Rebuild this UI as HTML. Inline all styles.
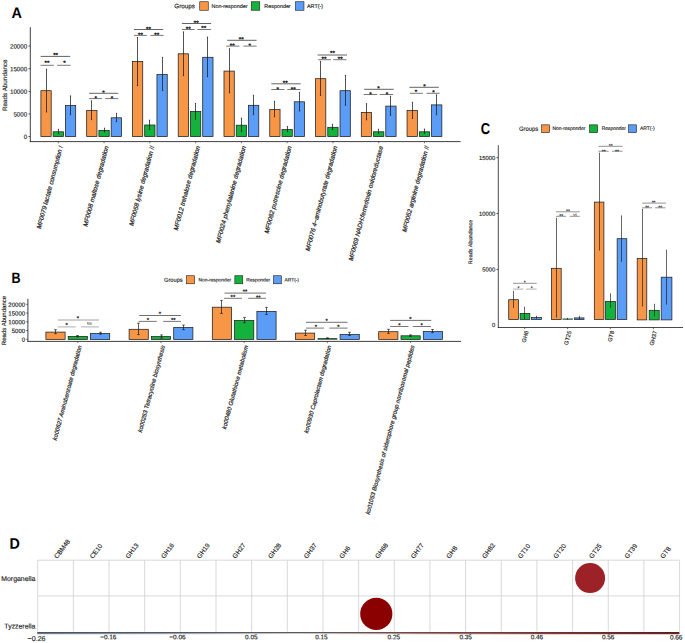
<!DOCTYPE html>
<html lang="en">
<head>
<meta charset="utf-8">
<title>Figure</title>
<style>
html,body{margin:0;padding:0;background:#fff;}
body{width:685px;height:643px;overflow:hidden;}
svg{display:block;}
text{font-family:"Liberation Sans",sans-serif;}
</style>
</head>
<body>
<svg width="685" height="643" viewBox="0 0 685 643" font-family="'Liberation Sans', sans-serif">
<rect x="0" y="0" width="685" height="643" fill="#ffffff"/>
<g id="panelA">
<text x="11.4" y="18" font-size="15.2" text-anchor="start" fill="#000" font-weight="bold" transform="translate(11.4 18) rotate(-0.05) scale(0.95 1) translate(-11.4 -18)">A</text>
<text x="174.3" y="8.27" font-size="6.3" text-anchor="start" fill="#1a1a1a" stroke="#1a1a1a" stroke-width="0.14" transform="rotate(-0.05 174.3 8.27)">Groups</text>
<rect x="199.74" y="1.74" width="8.52" height="8.52" fill="#F79646" stroke="#1e1e1e" stroke-width="0.6"/>
<text x="211.5" y="7.94" font-size="5.4" text-anchor="start" fill="#1a1a1a" stroke="#1a1a1a" stroke-width="0.14" transform="rotate(-0.05 211.5 7.94)">Non-responder</text>
<rect x="251.24" y="1.74" width="8.52" height="8.52" fill="#13B23C" stroke="#1e1e1e" stroke-width="0.6"/>
<text x="264.3" y="7.94" font-size="5.4" text-anchor="start" fill="#1a1a1a" stroke="#1a1a1a" stroke-width="0.14" transform="rotate(-0.05 264.3 7.94)">Responder</text>
<rect x="295.44" y="1.74" width="8.52" height="8.52" fill="#5B9CF6" stroke="#1e1e1e" stroke-width="0.6"/>
<text x="307" y="7.94" font-size="5.4" text-anchor="start" fill="#1a1a1a" stroke="#1a1a1a" stroke-width="0.14" transform="rotate(-0.05 307 7.94)">ART(-)</text>
<rect x="40.9" y="90.7" width="10.3" height="45.9" fill="#F79646" stroke="#1e1e1e" stroke-width="0.75"/>
<rect x="53.15" y="131.8" width="10.3" height="4.8" fill="#13B23C" stroke="#1e1e1e" stroke-width="0.75"/>
<rect x="65.4" y="105.5" width="10.3" height="31.1" fill="#5B9CF6" stroke="#1e1e1e" stroke-width="0.75"/>
<line x1="46.5" y1="69.2" x2="46.5" y2="112" stroke="#1a1a1a" stroke-width="0.75"/>
<line x1="45.9" y1="69.2" x2="47.1" y2="69.2" stroke="#1a1a1a" stroke-width="0.75"/>
<line x1="45.9" y1="112" x2="47.1" y2="112" stroke="#1a1a1a" stroke-width="0.75"/>
<line x1="58.5" y1="129.3" x2="58.5" y2="133.6" stroke="#1a1a1a" stroke-width="0.75"/>
<line x1="57.9" y1="129.3" x2="59.1" y2="129.3" stroke="#1a1a1a" stroke-width="0.75"/>
<line x1="57.9" y1="133.6" x2="59.1" y2="133.6" stroke="#1a1a1a" stroke-width="0.75"/>
<line x1="70.5" y1="95.9" x2="70.5" y2="114.7" stroke="#1a1a1a" stroke-width="0.75"/>
<line x1="69.9" y1="95.9" x2="71.1" y2="95.9" stroke="#1a1a1a" stroke-width="0.75"/>
<line x1="69.9" y1="114.7" x2="71.1" y2="114.7" stroke="#1a1a1a" stroke-width="0.75"/>
<rect x="86.67" y="110.6" width="10.3" height="26" fill="#F79646" stroke="#1e1e1e" stroke-width="0.75"/>
<rect x="98.92" y="130.4" width="10.3" height="6.2" fill="#13B23C" stroke="#1e1e1e" stroke-width="0.75"/>
<rect x="111.17" y="117.8" width="10.3" height="18.8" fill="#5B9CF6" stroke="#1e1e1e" stroke-width="0.75"/>
<line x1="91.5" y1="100.9" x2="91.5" y2="119.6" stroke="#1a1a1a" stroke-width="0.75"/>
<line x1="90.9" y1="100.9" x2="92.1" y2="100.9" stroke="#1a1a1a" stroke-width="0.75"/>
<line x1="90.9" y1="119.6" x2="92.1" y2="119.6" stroke="#1a1a1a" stroke-width="0.75"/>
<line x1="104.5" y1="128.2" x2="104.5" y2="131.9" stroke="#1a1a1a" stroke-width="0.75"/>
<line x1="103.9" y1="128.2" x2="105.1" y2="128.2" stroke="#1a1a1a" stroke-width="0.75"/>
<line x1="103.9" y1="131.9" x2="105.1" y2="131.9" stroke="#1a1a1a" stroke-width="0.75"/>
<line x1="116.5" y1="113.4" x2="116.5" y2="121.6" stroke="#1a1a1a" stroke-width="0.75"/>
<line x1="115.9" y1="113.4" x2="117.1" y2="113.4" stroke="#1a1a1a" stroke-width="0.75"/>
<line x1="115.9" y1="121.6" x2="117.1" y2="121.6" stroke="#1a1a1a" stroke-width="0.75"/>
<rect x="132.44" y="61.5" width="10.3" height="75.1" fill="#F79646" stroke="#1e1e1e" stroke-width="0.75"/>
<rect x="144.69" y="125" width="10.3" height="11.6" fill="#13B23C" stroke="#1e1e1e" stroke-width="0.75"/>
<rect x="156.94" y="74.6" width="10.3" height="62" fill="#5B9CF6" stroke="#1e1e1e" stroke-width="0.75"/>
<line x1="137.5" y1="37.5" x2="137.5" y2="85.6" stroke="#1a1a1a" stroke-width="0.75"/>
<line x1="136.9" y1="37.5" x2="138.1" y2="37.5" stroke="#1a1a1a" stroke-width="0.75"/>
<line x1="136.9" y1="85.6" x2="138.1" y2="85.6" stroke="#1a1a1a" stroke-width="0.75"/>
<line x1="149.5" y1="120.2" x2="149.5" y2="129.5" stroke="#1a1a1a" stroke-width="0.75"/>
<line x1="148.9" y1="120.2" x2="150.1" y2="120.2" stroke="#1a1a1a" stroke-width="0.75"/>
<line x1="148.9" y1="129.5" x2="150.1" y2="129.5" stroke="#1a1a1a" stroke-width="0.75"/>
<line x1="162.5" y1="57.4" x2="162.5" y2="90.6" stroke="#1a1a1a" stroke-width="0.75"/>
<line x1="161.9" y1="57.4" x2="163.1" y2="57.4" stroke="#1a1a1a" stroke-width="0.75"/>
<line x1="161.9" y1="90.6" x2="163.1" y2="90.6" stroke="#1a1a1a" stroke-width="0.75"/>
<rect x="178.21" y="53.8" width="10.3" height="82.8" fill="#F79646" stroke="#1e1e1e" stroke-width="0.75"/>
<rect x="190.46" y="111.5" width="10.3" height="25.1" fill="#13B23C" stroke="#1e1e1e" stroke-width="0.75"/>
<rect x="202.71" y="57.3" width="10.3" height="79.3" fill="#5B9CF6" stroke="#1e1e1e" stroke-width="0.75"/>
<line x1="183.5" y1="31.9" x2="183.5" y2="75.6" stroke="#1a1a1a" stroke-width="0.75"/>
<line x1="182.9" y1="31.9" x2="184.1" y2="31.9" stroke="#1a1a1a" stroke-width="0.75"/>
<line x1="182.9" y1="75.6" x2="184.1" y2="75.6" stroke="#1a1a1a" stroke-width="0.75"/>
<line x1="195.5" y1="103.5" x2="195.5" y2="119.2" stroke="#1a1a1a" stroke-width="0.75"/>
<line x1="194.9" y1="103.5" x2="196.1" y2="103.5" stroke="#1a1a1a" stroke-width="0.75"/>
<line x1="194.9" y1="119.2" x2="196.1" y2="119.2" stroke="#1a1a1a" stroke-width="0.75"/>
<line x1="207.5" y1="37.1" x2="207.5" y2="76.6" stroke="#1a1a1a" stroke-width="0.75"/>
<line x1="206.9" y1="37.1" x2="208.1" y2="37.1" stroke="#1a1a1a" stroke-width="0.75"/>
<line x1="206.9" y1="76.6" x2="208.1" y2="76.6" stroke="#1a1a1a" stroke-width="0.75"/>
<rect x="223.98" y="71.1" width="10.3" height="65.5" fill="#F79646" stroke="#1e1e1e" stroke-width="0.75"/>
<rect x="236.23" y="125.2" width="10.3" height="11.4" fill="#13B23C" stroke="#1e1e1e" stroke-width="0.75"/>
<rect x="248.48" y="105.3" width="10.3" height="31.3" fill="#5B9CF6" stroke="#1e1e1e" stroke-width="0.75"/>
<line x1="229.5" y1="48.8" x2="229.5" y2="92.8" stroke="#1a1a1a" stroke-width="0.75"/>
<line x1="228.9" y1="48.8" x2="230.1" y2="48.8" stroke="#1a1a1a" stroke-width="0.75"/>
<line x1="228.9" y1="92.8" x2="230.1" y2="92.8" stroke="#1a1a1a" stroke-width="0.75"/>
<line x1="241.5" y1="118.2" x2="241.5" y2="131.5" stroke="#1a1a1a" stroke-width="0.75"/>
<line x1="240.9" y1="118.2" x2="242.1" y2="118.2" stroke="#1a1a1a" stroke-width="0.75"/>
<line x1="240.9" y1="131.5" x2="242.1" y2="131.5" stroke="#1a1a1a" stroke-width="0.75"/>
<line x1="253.5" y1="95.3" x2="253.5" y2="114.7" stroke="#1a1a1a" stroke-width="0.75"/>
<line x1="252.9" y1="95.3" x2="254.1" y2="95.3" stroke="#1a1a1a" stroke-width="0.75"/>
<line x1="252.9" y1="114.7" x2="254.1" y2="114.7" stroke="#1a1a1a" stroke-width="0.75"/>
<rect x="269.75" y="109.6" width="10.3" height="27" fill="#F79646" stroke="#1e1e1e" stroke-width="0.75"/>
<rect x="282" y="129.6" width="10.3" height="7" fill="#13B23C" stroke="#1e1e1e" stroke-width="0.75"/>
<rect x="294.25" y="101.8" width="10.3" height="34.8" fill="#5B9CF6" stroke="#1e1e1e" stroke-width="0.75"/>
<line x1="274.5" y1="101.3" x2="274.5" y2="116.7" stroke="#1a1a1a" stroke-width="0.75"/>
<line x1="273.9" y1="101.3" x2="275.1" y2="101.3" stroke="#1a1a1a" stroke-width="0.75"/>
<line x1="273.9" y1="116.7" x2="275.1" y2="116.7" stroke="#1a1a1a" stroke-width="0.75"/>
<line x1="287.5" y1="126.6" x2="287.5" y2="131.5" stroke="#1a1a1a" stroke-width="0.75"/>
<line x1="286.9" y1="126.6" x2="288.1" y2="126.6" stroke="#1a1a1a" stroke-width="0.75"/>
<line x1="286.9" y1="131.5" x2="288.1" y2="131.5" stroke="#1a1a1a" stroke-width="0.75"/>
<line x1="299.5" y1="92.4" x2="299.5" y2="110.9" stroke="#1a1a1a" stroke-width="0.75"/>
<line x1="298.9" y1="92.4" x2="300.1" y2="92.4" stroke="#1a1a1a" stroke-width="0.75"/>
<line x1="298.9" y1="110.9" x2="300.1" y2="110.9" stroke="#1a1a1a" stroke-width="0.75"/>
<rect x="315.52" y="78.7" width="10.3" height="57.9" fill="#F79646" stroke="#1e1e1e" stroke-width="0.75"/>
<rect x="327.77" y="127.3" width="10.3" height="9.3" fill="#13B23C" stroke="#1e1e1e" stroke-width="0.75"/>
<rect x="340.02" y="90.7" width="10.3" height="45.9" fill="#5B9CF6" stroke="#1e1e1e" stroke-width="0.75"/>
<line x1="320.5" y1="61.4" x2="320.5" y2="95.5" stroke="#1a1a1a" stroke-width="0.75"/>
<line x1="319.9" y1="61.4" x2="321.1" y2="61.4" stroke="#1a1a1a" stroke-width="0.75"/>
<line x1="319.9" y1="95.5" x2="321.1" y2="95.5" stroke="#1a1a1a" stroke-width="0.75"/>
<line x1="332.5" y1="124.3" x2="332.5" y2="129.5" stroke="#1a1a1a" stroke-width="0.75"/>
<line x1="331.9" y1="124.3" x2="333.1" y2="124.3" stroke="#1a1a1a" stroke-width="0.75"/>
<line x1="331.9" y1="129.5" x2="333.1" y2="129.5" stroke="#1a1a1a" stroke-width="0.75"/>
<line x1="345.5" y1="75.4" x2="345.5" y2="105.2" stroke="#1a1a1a" stroke-width="0.75"/>
<line x1="344.9" y1="75.4" x2="346.1" y2="75.4" stroke="#1a1a1a" stroke-width="0.75"/>
<line x1="344.9" y1="105.2" x2="346.1" y2="105.2" stroke="#1a1a1a" stroke-width="0.75"/>
<rect x="361.29" y="112.5" width="10.3" height="24.1" fill="#F79646" stroke="#1e1e1e" stroke-width="0.75"/>
<rect x="373.54" y="131.8" width="10.3" height="4.8" fill="#13B23C" stroke="#1e1e1e" stroke-width="0.75"/>
<rect x="385.79" y="106.1" width="10.3" height="30.5" fill="#5B9CF6" stroke="#1e1e1e" stroke-width="0.75"/>
<line x1="366.5" y1="103.7" x2="366.5" y2="119.8" stroke="#1a1a1a" stroke-width="0.75"/>
<line x1="365.9" y1="103.7" x2="367.1" y2="103.7" stroke="#1a1a1a" stroke-width="0.75"/>
<line x1="365.9" y1="119.8" x2="367.1" y2="119.8" stroke="#1a1a1a" stroke-width="0.75"/>
<line x1="378.5" y1="129.3" x2="378.5" y2="133.4" stroke="#1a1a1a" stroke-width="0.75"/>
<line x1="377.9" y1="129.3" x2="379.1" y2="129.3" stroke="#1a1a1a" stroke-width="0.75"/>
<line x1="377.9" y1="133.4" x2="379.1" y2="133.4" stroke="#1a1a1a" stroke-width="0.75"/>
<line x1="390.5" y1="96.3" x2="390.5" y2="115.3" stroke="#1a1a1a" stroke-width="0.75"/>
<line x1="389.9" y1="96.3" x2="391.1" y2="96.3" stroke="#1a1a1a" stroke-width="0.75"/>
<line x1="389.9" y1="115.3" x2="391.1" y2="115.3" stroke="#1a1a1a" stroke-width="0.75"/>
<rect x="407.06" y="110.6" width="10.3" height="26" fill="#F79646" stroke="#1e1e1e" stroke-width="0.75"/>
<rect x="419.31" y="131.8" width="10.3" height="4.8" fill="#13B23C" stroke="#1e1e1e" stroke-width="0.75"/>
<rect x="431.56" y="104.9" width="10.3" height="31.7" fill="#5B9CF6" stroke="#1e1e1e" stroke-width="0.75"/>
<line x1="412.5" y1="102.3" x2="412.5" y2="118.4" stroke="#1a1a1a" stroke-width="0.75"/>
<line x1="411.9" y1="102.3" x2="413.1" y2="102.3" stroke="#1a1a1a" stroke-width="0.75"/>
<line x1="411.9" y1="118.4" x2="413.1" y2="118.4" stroke="#1a1a1a" stroke-width="0.75"/>
<line x1="424.5" y1="129.1" x2="424.5" y2="133.4" stroke="#1a1a1a" stroke-width="0.75"/>
<line x1="423.9" y1="129.1" x2="425.1" y2="129.1" stroke="#1a1a1a" stroke-width="0.75"/>
<line x1="423.9" y1="133.4" x2="425.1" y2="133.4" stroke="#1a1a1a" stroke-width="0.75"/>
<line x1="436.5" y1="94.9" x2="436.5" y2="114.7" stroke="#1a1a1a" stroke-width="0.75"/>
<line x1="435.9" y1="94.9" x2="437.1" y2="94.9" stroke="#1a1a1a" stroke-width="0.75"/>
<line x1="435.9" y1="114.7" x2="437.1" y2="114.7" stroke="#1a1a1a" stroke-width="0.75"/>
<line x1="40.6" y1="56.4" x2="70.2" y2="56.4" stroke="#3c3c3c" stroke-width="0.8"/>
<line x1="40.6" y1="65.3" x2="53.9" y2="65.3" stroke="#555555" stroke-width="0.8"/>
<line x1="57.2" y1="65.3" x2="70.6" y2="65.3" stroke="#555555" stroke-width="0.8"/>
<text x="55.6" y="57.21" font-size="6.3" text-anchor="middle" fill="#222" stroke="#222" stroke-width="0.3" transform="rotate(-0.05 55.6 57.21)">**</text>
<text x="46.9" y="65.01" font-size="6.3" text-anchor="middle" fill="#222" stroke="#222" stroke-width="0.3" transform="rotate(-0.05 46.9 65.01)">**</text>
<text x="64.6" y="65.01" font-size="6.3" text-anchor="middle" fill="#222" stroke="#222" stroke-width="0.3" transform="rotate(-0.05 64.6 65.01)">*</text>
<line x1="89.1" y1="93.3" x2="118.3" y2="93.3" stroke="#3c3c3c" stroke-width="0.8"/>
<line x1="89.1" y1="98.6" x2="101.9" y2="98.6" stroke="#555555" stroke-width="0.8"/>
<line x1="105.2" y1="98.6" x2="118.3" y2="98.6" stroke="#555555" stroke-width="0.8"/>
<text x="103.5" y="94.81" font-size="6.3" text-anchor="middle" fill="#222" stroke="#222" stroke-width="0.3" transform="rotate(-0.05 103.5 94.81)">*</text>
<text x="95.7" y="100.61" font-size="6.3" text-anchor="middle" fill="#222" stroke="#222" stroke-width="0.3" transform="rotate(-0.05 95.7 100.61)">*</text>
<text x="111.9" y="100.61" font-size="6.3" text-anchor="middle" fill="#222" stroke="#222" stroke-width="0.3" transform="rotate(-0.05 111.9 100.61)">*</text>
<line x1="134" y1="29.5" x2="163.2" y2="29.5" stroke="#3c3c3c" stroke-width="0.8"/>
<line x1="134" y1="35.4" x2="146.8" y2="35.4" stroke="#555555" stroke-width="0.8"/>
<line x1="150.4" y1="35.4" x2="163.6" y2="35.4" stroke="#555555" stroke-width="0.8"/>
<text x="148.4" y="31.21" font-size="6.3" text-anchor="middle" fill="#222" stroke="#222" stroke-width="0.3" transform="rotate(-0.05 148.4 31.21)">**</text>
<text x="140.4" y="37.01" font-size="6.3" text-anchor="middle" fill="#222" stroke="#222" stroke-width="0.3" transform="rotate(-0.05 140.4 37.01)">**</text>
<text x="156.8" y="37.01" font-size="6.3" text-anchor="middle" fill="#222" stroke="#222" stroke-width="0.3" transform="rotate(-0.05 156.8 37.01)">**</text>
<line x1="181.9" y1="23.5" x2="211.1" y2="23.5" stroke="#3c3c3c" stroke-width="0.8"/>
<line x1="181.9" y1="29.5" x2="194.7" y2="29.5" stroke="#555555" stroke-width="0.8"/>
<line x1="197.4" y1="29.5" x2="211.1" y2="29.5" stroke="#555555" stroke-width="0.8"/>
<text x="196.3" y="25.01" font-size="6.3" text-anchor="middle" fill="#222" stroke="#222" stroke-width="0.3" transform="rotate(-0.05 196.3 25.01)">**</text>
<text x="188.3" y="31.01" font-size="6.3" text-anchor="middle" fill="#222" stroke="#222" stroke-width="0.3" transform="rotate(-0.05 188.3 31.01)">**</text>
<text x="203.7" y="30.31" font-size="6.3" text-anchor="middle" fill="#222" stroke="#222" stroke-width="0.3" transform="rotate(-0.05 203.7 30.31)">**</text>
<line x1="227.2" y1="40.3" x2="256.6" y2="40.3" stroke="#3c3c3c" stroke-width="0.8"/>
<line x1="226.2" y1="46.1" x2="239.4" y2="46.1" stroke="#555555" stroke-width="0.8"/>
<line x1="243.3" y1="46.1" x2="256.6" y2="46.1" stroke="#555555" stroke-width="0.8"/>
<text x="241.2" y="41.41" font-size="6.3" text-anchor="middle" fill="#222" stroke="#222" stroke-width="0.3" transform="rotate(-0.05 241.2 41.41)">**</text>
<text x="232.2" y="47.81" font-size="6.3" text-anchor="middle" fill="#222" stroke="#222" stroke-width="0.3" transform="rotate(-0.05 232.2 47.81)">**</text>
<text x="249.7" y="47.81" font-size="6.3" text-anchor="middle" fill="#222" stroke="#222" stroke-width="0.3" transform="rotate(-0.05 249.7 47.81)">*</text>
<line x1="271.3" y1="83.8" x2="300.7" y2="83.8" stroke="#3c3c3c" stroke-width="0.8"/>
<line x1="271.3" y1="89.5" x2="284.4" y2="89.5" stroke="#555555" stroke-width="0.8"/>
<line x1="287.3" y1="89.5" x2="300.5" y2="89.5" stroke="#555555" stroke-width="0.8"/>
<text x="285.2" y="85.11" font-size="6.3" text-anchor="middle" fill="#222" stroke="#222" stroke-width="0.3" transform="rotate(-0.05 285.2 85.11)">**</text>
<text x="277.8" y="91.51" font-size="6.3" text-anchor="middle" fill="#222" stroke="#222" stroke-width="0.3" transform="rotate(-0.05 277.8 91.51)">*</text>
<text x="293.3" y="91.51" font-size="6.3" text-anchor="middle" fill="#222" stroke="#222" stroke-width="0.3" transform="rotate(-0.05 293.3 91.51)">**</text>
<line x1="317.6" y1="55" x2="347" y2="55" stroke="#3c3c3c" stroke-width="0.8"/>
<line x1="318.2" y1="59.7" x2="331" y2="59.7" stroke="#555555" stroke-width="0.8"/>
<line x1="333.4" y1="59.7" x2="346.4" y2="59.7" stroke="#555555" stroke-width="0.8"/>
<text x="332.4" y="55.31" font-size="6.3" text-anchor="middle" fill="#222" stroke="#222" stroke-width="0.3" transform="rotate(-0.05 332.4 55.31)">**</text>
<text x="324" y="61.11" font-size="6.3" text-anchor="middle" fill="#222" stroke="#222" stroke-width="0.3" transform="rotate(-0.05 324 61.11)">**</text>
<text x="340.2" y="61.11" font-size="6.3" text-anchor="middle" fill="#222" stroke="#222" stroke-width="0.3" transform="rotate(-0.05 340.2 61.11)">**</text>
<line x1="364.1" y1="89.3" x2="393.7" y2="89.3" stroke="#3c3c3c" stroke-width="0.8"/>
<line x1="363.7" y1="94.5" x2="377.2" y2="94.5" stroke="#555555" stroke-width="0.8"/>
<line x1="379.9" y1="94.5" x2="393.1" y2="94.5" stroke="#555555" stroke-width="0.8"/>
<text x="378.5" y="90.51" font-size="6.3" text-anchor="middle" fill="#222" stroke="#222" stroke-width="0.3" transform="rotate(-0.05 378.5 90.51)">*</text>
<text x="370.5" y="96.61" font-size="6.3" text-anchor="middle" fill="#222" stroke="#222" stroke-width="0.3" transform="rotate(-0.05 370.5 96.61)">*</text>
<text x="386.9" y="96.61" font-size="6.3" text-anchor="middle" fill="#222" stroke="#222" stroke-width="0.3" transform="rotate(-0.05 386.9 96.61)">*</text>
<line x1="409.4" y1="87.3" x2="438.8" y2="87.3" stroke="#3c3c3c" stroke-width="0.8"/>
<line x1="409.8" y1="93.3" x2="422.8" y2="93.3" stroke="#555555" stroke-width="0.8"/>
<line x1="426.5" y1="93.3" x2="439.7" y2="93.3" stroke="#555555" stroke-width="0.8"/>
<text x="424.4" y="88.41" font-size="6.3" text-anchor="middle" fill="#222" stroke="#222" stroke-width="0.3" transform="rotate(-0.05 424.4 88.41)">*</text>
<text x="416" y="94.01" font-size="6.3" text-anchor="middle" fill="#222" stroke="#222" stroke-width="0.3" transform="rotate(-0.05 416 94.01)">*</text>
<text x="433.5" y="94.61" font-size="6.3" text-anchor="middle" fill="#222" stroke="#222" stroke-width="0.3" transform="rotate(-0.05 433.5 94.61)">*</text>
<line x1="30.3" y1="27.2" x2="30.3" y2="142.05" stroke="#2a2a2a" stroke-width="0.9"/>
<line x1="29.85" y1="141.6" x2="460.6" y2="141.6" stroke="#2a2a2a" stroke-width="0.9"/>
<line x1="28.5" y1="136.5" x2="30.3" y2="136.5" stroke="#2a2a2a" stroke-width="0.8"/>
<text x="27.2" y="138.95" font-size="6.2" text-anchor="end" fill="#1a1a1a" stroke="#1a1a1a" stroke-width="0.14" transform="rotate(-0.05 27.2 138.95)">0</text>
<line x1="28.5" y1="113.95" x2="30.3" y2="113.95" stroke="#2a2a2a" stroke-width="0.8"/>
<text x="27.2" y="116.4" font-size="6.2" text-anchor="end" fill="#1a1a1a" stroke="#1a1a1a" stroke-width="0.14" transform="rotate(-0.05 27.2 116.4)">5000</text>
<line x1="28.5" y1="91.4" x2="30.3" y2="91.4" stroke="#2a2a2a" stroke-width="0.8"/>
<text x="27.2" y="93.85" font-size="6.2" text-anchor="end" fill="#1a1a1a" stroke="#1a1a1a" stroke-width="0.14" transform="rotate(-0.05 27.2 93.85)">10000</text>
<line x1="28.5" y1="68.7" x2="30.3" y2="68.7" stroke="#2a2a2a" stroke-width="0.8"/>
<text x="27.2" y="71.15" font-size="6.2" text-anchor="end" fill="#1a1a1a" stroke="#1a1a1a" stroke-width="0.14" transform="rotate(-0.05 27.2 71.15)">15000</text>
<line x1="28.5" y1="46" x2="30.3" y2="46" stroke="#2a2a2a" stroke-width="0.8"/>
<text x="27.2" y="48.45" font-size="6.2" text-anchor="end" fill="#1a1a1a" stroke="#1a1a1a" stroke-width="0.14" transform="rotate(-0.05 27.2 48.45)">20000</text>
<text x="7" y="85.2" font-size="6.3" text-anchor="middle" fill="#1a1a1a" stroke="#1a1a1a" stroke-width="0.14" transform="rotate(-90.05 7 85.2)">Reads Abundance</text>
<line x1="58.3" y1="141.6" x2="58.3" y2="143.3" stroke="#2a2a2a" stroke-width="0.6"/>
<text x="62.9" y="146.6" font-size="6.4" text-anchor="end" fill="#1a1a1a" stroke="#1a1a1a" stroke-width="0.2" font-style="italic" transform="rotate(-75.05 62.9 146.6)">MF0079 lactate consumption I</text>
<line x1="104.07" y1="141.6" x2="104.07" y2="143.3" stroke="#2a2a2a" stroke-width="0.6"/>
<text x="108.67" y="146.6" font-size="6.4" text-anchor="end" fill="#1a1a1a" stroke="#1a1a1a" stroke-width="0.2" font-style="italic" transform="rotate(-75.05 108.67 146.6)">MF0008 maltose degradation</text>
<line x1="149.84" y1="141.6" x2="149.84" y2="143.3" stroke="#2a2a2a" stroke-width="0.6"/>
<text x="154.44" y="146.6" font-size="6.4" text-anchor="end" fill="#1a1a1a" stroke="#1a1a1a" stroke-width="0.2" font-style="italic" transform="rotate(-75.05 154.44 146.6)">MF0058 lysine degradation II</text>
<line x1="195.61" y1="141.6" x2="195.61" y2="143.3" stroke="#2a2a2a" stroke-width="0.6"/>
<text x="200.21" y="146.6" font-size="6.4" text-anchor="end" fill="#1a1a1a" stroke="#1a1a1a" stroke-width="0.2" font-style="italic" transform="rotate(-75.05 200.21 146.6)">MF0012 trehalose degradation</text>
<line x1="241.38" y1="141.6" x2="241.38" y2="143.3" stroke="#2a2a2a" stroke-width="0.6"/>
<text x="245.98" y="146.6" font-size="6.4" text-anchor="end" fill="#1a1a1a" stroke="#1a1a1a" stroke-width="0.2" font-style="italic" transform="rotate(-75.05 245.98 146.6)">MF0024 phenylalanine degradation</text>
<line x1="287.15" y1="141.6" x2="287.15" y2="143.3" stroke="#2a2a2a" stroke-width="0.6"/>
<text x="291.75" y="146.6" font-size="6.4" text-anchor="end" fill="#1a1a1a" stroke="#1a1a1a" stroke-width="0.2" font-style="italic" transform="rotate(-75.05 291.75 146.6)">MF0082 putrescine degradation</text>
<line x1="332.92" y1="141.6" x2="332.92" y2="143.3" stroke="#2a2a2a" stroke-width="0.6"/>
<text x="337.52" y="146.6" font-size="6.4" text-anchor="end" fill="#1a1a1a" stroke="#1a1a1a" stroke-width="0.2" font-style="italic" transform="rotate(-75.05 337.52 146.6)">MF0076 4&#8722;aminobutyrate degradation</text>
<line x1="378.69" y1="141.6" x2="378.69" y2="143.3" stroke="#2a2a2a" stroke-width="0.6"/>
<text x="383.29" y="146.6" font-size="6.4" text-anchor="end" fill="#1a1a1a" stroke="#1a1a1a" stroke-width="0.2" font-style="italic" transform="rotate(-75.05 383.29 146.6)">MF0069 NADH:ferredoxin oxidoreductase</text>
<line x1="424.46" y1="141.6" x2="424.46" y2="143.3" stroke="#2a2a2a" stroke-width="0.6"/>
<text x="429.06" y="146.6" font-size="6.4" text-anchor="end" fill="#1a1a1a" stroke="#1a1a1a" stroke-width="0.2" font-style="italic" transform="rotate(-75.05 429.06 146.6)">MF0052 arginine degradation II</text>
</g>
<g id="panelB">
<text x="11.6" y="283.1" font-size="15" text-anchor="start" fill="#000" font-weight="bold" transform="translate(11.6 283.1) rotate(-0.05) scale(0.84 1) translate(-11.6 -283.1)">B</text>
<text x="164" y="281.8" font-size="5.7" text-anchor="start" fill="#1a1a1a" stroke="#1a1a1a" stroke-width="0.14" transform="rotate(-0.05 164 281.8)">Groups</text>
<rect x="186.54" y="275.74" width="8.12" height="8.02" fill="#F79646" stroke="#1e1e1e" stroke-width="0.6"/>
<text x="198.6" y="281.5" font-size="4.86" text-anchor="start" fill="#1a1a1a" stroke="#1a1a1a" stroke-width="0.14" transform="rotate(-0.05 198.6 281.5)">Non-responder</text>
<rect x="234.84" y="275.74" width="7.92" height="8.02" fill="#13B23C" stroke="#1e1e1e" stroke-width="0.6"/>
<text x="246.3" y="281.5" font-size="4.86" text-anchor="start" fill="#1a1a1a" stroke="#1a1a1a" stroke-width="0.14" transform="rotate(-0.05 246.3 281.5)">Responder</text>
<rect x="273.54" y="275.74" width="7.82" height="8.02" fill="#5B9CF6" stroke="#1e1e1e" stroke-width="0.6"/>
<text x="284.5" y="281.5" font-size="4.86" text-anchor="start" fill="#1a1a1a" stroke="#1a1a1a" stroke-width="0.14" transform="rotate(-0.05 284.5 281.5)">ART(-)</text>
<rect x="45.9" y="332.1" width="19.2" height="7.3" fill="#F79646" stroke="#1e1e1e" stroke-width="0.75"/>
<rect x="68.2" y="336.5" width="19.2" height="2.9" fill="#13B23C" stroke="#1e1e1e" stroke-width="0.75"/>
<rect x="90.5" y="333.5" width="19.2" height="5.9" fill="#5B9CF6" stroke="#1e1e1e" stroke-width="0.75"/>
<line x1="55.5" y1="329.7" x2="55.5" y2="333.7" stroke="#1a1a1a" stroke-width="0.7"/>
<line x1="54.2" y1="329.7" x2="56.8" y2="329.7" stroke="#1a1a1a" stroke-width="0.7"/>
<line x1="54.2" y1="333.7" x2="56.8" y2="333.7" stroke="#1a1a1a" stroke-width="0.7"/>
<line x1="77.5" y1="335.5" x2="77.5" y2="336.9" stroke="#1a1a1a" stroke-width="0.7"/>
<line x1="76.2" y1="335.5" x2="78.8" y2="335.5" stroke="#1a1a1a" stroke-width="0.7"/>
<line x1="76.2" y1="336.9" x2="78.8" y2="336.9" stroke="#1a1a1a" stroke-width="0.7"/>
<line x1="100.5" y1="332.3" x2="100.5" y2="334.2" stroke="#1a1a1a" stroke-width="0.7"/>
<line x1="99.2" y1="332.3" x2="101.8" y2="332.3" stroke="#1a1a1a" stroke-width="0.7"/>
<line x1="99.2" y1="334.2" x2="101.8" y2="334.2" stroke="#1a1a1a" stroke-width="0.7"/>
<rect x="129.1" y="329.3" width="19.2" height="10.1" fill="#F79646" stroke="#1e1e1e" stroke-width="0.75"/>
<rect x="151.4" y="336.6" width="19.2" height="2.8" fill="#13B23C" stroke="#1e1e1e" stroke-width="0.75"/>
<rect x="173.7" y="327.5" width="19.2" height="11.9" fill="#5B9CF6" stroke="#1e1e1e" stroke-width="0.75"/>
<line x1="138.5" y1="323.2" x2="138.5" y2="334.6" stroke="#1a1a1a" stroke-width="0.7"/>
<line x1="137.2" y1="323.2" x2="139.8" y2="323.2" stroke="#1a1a1a" stroke-width="0.7"/>
<line x1="137.2" y1="334.6" x2="139.8" y2="334.6" stroke="#1a1a1a" stroke-width="0.7"/>
<line x1="161.5" y1="334.9" x2="161.5" y2="338.1" stroke="#1a1a1a" stroke-width="0.7"/>
<line x1="160.2" y1="334.9" x2="162.8" y2="334.9" stroke="#1a1a1a" stroke-width="0.7"/>
<line x1="160.2" y1="338.1" x2="162.8" y2="338.1" stroke="#1a1a1a" stroke-width="0.7"/>
<line x1="183.5" y1="325.1" x2="183.5" y2="329.7" stroke="#1a1a1a" stroke-width="0.7"/>
<line x1="182.2" y1="325.1" x2="184.8" y2="325.1" stroke="#1a1a1a" stroke-width="0.7"/>
<line x1="182.2" y1="329.7" x2="184.8" y2="329.7" stroke="#1a1a1a" stroke-width="0.7"/>
<rect x="212.3" y="307.2" width="19.2" height="32.2" fill="#F79646" stroke="#1e1e1e" stroke-width="0.75"/>
<rect x="234.6" y="320.5" width="19.2" height="18.9" fill="#13B23C" stroke="#1e1e1e" stroke-width="0.75"/>
<rect x="256.9" y="311.4" width="19.2" height="28" fill="#5B9CF6" stroke="#1e1e1e" stroke-width="0.75"/>
<line x1="221.5" y1="300.4" x2="221.5" y2="313.4" stroke="#1a1a1a" stroke-width="0.7"/>
<line x1="220.2" y1="300.4" x2="222.8" y2="300.4" stroke="#1a1a1a" stroke-width="0.7"/>
<line x1="220.2" y1="313.4" x2="222.8" y2="313.4" stroke="#1a1a1a" stroke-width="0.7"/>
<line x1="244.5" y1="317.4" x2="244.5" y2="322.7" stroke="#1a1a1a" stroke-width="0.7"/>
<line x1="243.2" y1="317.4" x2="245.8" y2="317.4" stroke="#1a1a1a" stroke-width="0.7"/>
<line x1="243.2" y1="322.7" x2="245.8" y2="322.7" stroke="#1a1a1a" stroke-width="0.7"/>
<line x1="266.5" y1="307.4" x2="266.5" y2="314.4" stroke="#1a1a1a" stroke-width="0.7"/>
<line x1="265.2" y1="307.4" x2="267.8" y2="307.4" stroke="#1a1a1a" stroke-width="0.7"/>
<line x1="265.2" y1="314.4" x2="267.8" y2="314.4" stroke="#1a1a1a" stroke-width="0.7"/>
<rect x="295.5" y="333.1" width="19.2" height="6.3" fill="#F79646" stroke="#1e1e1e" stroke-width="0.75"/>
<rect x="317.5" y="338.1" width="19.8" height="1.6" fill="#1f4d2c"/>
<rect x="340.1" y="334.5" width="19.2" height="4.9" fill="#5B9CF6" stroke="#1e1e1e" stroke-width="0.75"/>
<line x1="305.5" y1="330.2" x2="305.5" y2="335.5" stroke="#1a1a1a" stroke-width="0.7"/>
<line x1="304.2" y1="330.2" x2="306.8" y2="330.2" stroke="#1a1a1a" stroke-width="0.7"/>
<line x1="304.2" y1="335.5" x2="306.8" y2="335.5" stroke="#1a1a1a" stroke-width="0.7"/>
<line x1="327.5" y1="337.8" x2="327.5" y2="338.5" stroke="#1a1a1a" stroke-width="0.7"/>
<line x1="326.2" y1="337.8" x2="328.8" y2="337.8" stroke="#1a1a1a" stroke-width="0.7"/>
<line x1="326.2" y1="338.5" x2="328.8" y2="338.5" stroke="#1a1a1a" stroke-width="0.7"/>
<line x1="349.5" y1="332.3" x2="349.5" y2="335.5" stroke="#1a1a1a" stroke-width="0.7"/>
<line x1="348.2" y1="332.3" x2="350.8" y2="332.3" stroke="#1a1a1a" stroke-width="0.7"/>
<line x1="348.2" y1="335.5" x2="350.8" y2="335.5" stroke="#1a1a1a" stroke-width="0.7"/>
<rect x="378.7" y="331.7" width="19.2" height="7.7" fill="#F79646" stroke="#1e1e1e" stroke-width="0.75"/>
<rect x="401" y="335.8" width="19.2" height="3.6" fill="#13B23C" stroke="#1e1e1e" stroke-width="0.75"/>
<rect x="423.3" y="331.6" width="19.2" height="7.8" fill="#5B9CF6" stroke="#1e1e1e" stroke-width="0.75"/>
<line x1="388.5" y1="329.3" x2="388.5" y2="333.4" stroke="#1a1a1a" stroke-width="0.7"/>
<line x1="387.2" y1="329.3" x2="389.8" y2="329.3" stroke="#1a1a1a" stroke-width="0.7"/>
<line x1="387.2" y1="333.4" x2="389.8" y2="333.4" stroke="#1a1a1a" stroke-width="0.7"/>
<line x1="410.5" y1="334.9" x2="410.5" y2="336.3" stroke="#1a1a1a" stroke-width="0.7"/>
<line x1="409.2" y1="334.9" x2="411.8" y2="334.9" stroke="#1a1a1a" stroke-width="0.7"/>
<line x1="409.2" y1="336.3" x2="411.8" y2="336.3" stroke="#1a1a1a" stroke-width="0.7"/>
<line x1="432.5" y1="329.5" x2="432.5" y2="332.7" stroke="#1a1a1a" stroke-width="0.7"/>
<line x1="431.2" y1="329.5" x2="433.8" y2="329.5" stroke="#1a1a1a" stroke-width="0.7"/>
<line x1="431.2" y1="332.7" x2="433.8" y2="332.7" stroke="#1a1a1a" stroke-width="0.7"/>
<line x1="57.8" y1="320" x2="99" y2="320" stroke="#8a8a8a" stroke-width="0.8"/>
<line x1="57.8" y1="326.9" x2="75.7" y2="326.9" stroke="#9a9a9a" stroke-width="0.8"/>
<line x1="80.9" y1="326.9" x2="99" y2="326.9" stroke="#9a9a9a" stroke-width="0.8"/>
<text x="78" y="320.36" font-size="5.88" text-anchor="middle" fill="#222" stroke="#222" stroke-width="0.22" transform="rotate(-0.05 78 320.36)">*</text>
<text x="66.6" y="327.06" font-size="5.88" text-anchor="middle" fill="#222" stroke="#222" stroke-width="0.22" transform="rotate(-0.05 66.6 327.06)">*</text>
<text x="89.3" y="324.74" font-size="3.47" text-anchor="middle" fill="#3c3f46" stroke="#3c3f46" stroke-width="0.08" transform="rotate(-0.05 89.3 324.74)">NS</text>
<line x1="139.2" y1="315.5" x2="180.9" y2="315.5" stroke="#4c4c4c" stroke-width="0.8"/>
<line x1="138.7" y1="321.4" x2="156.7" y2="321.4" stroke="#545454" stroke-width="0.8"/>
<line x1="163.2" y1="321.4" x2="180.9" y2="321.4" stroke="#545454" stroke-width="0.8"/>
<text x="160" y="315.66" font-size="5.88" text-anchor="middle" fill="#222" stroke="#222" stroke-width="0.22" transform="rotate(-0.05 160 315.66)">*</text>
<text x="147.9" y="321.96" font-size="5.88" text-anchor="middle" fill="#222" stroke="#222" stroke-width="0.22" transform="rotate(-0.05 147.9 321.96)">*</text>
<text x="173.3" y="321.96" font-size="5.88" text-anchor="middle" fill="#222" stroke="#222" stroke-width="0.22" transform="rotate(-0.05 173.3 321.96)">**</text>
<line x1="224.5" y1="293.1" x2="266" y2="293.1" stroke="#4c4c4c" stroke-width="0.8"/>
<line x1="224" y1="298.3" x2="242" y2="298.3" stroke="#545454" stroke-width="0.8"/>
<line x1="248.2" y1="298.3" x2="266" y2="298.3" stroke="#545454" stroke-width="0.8"/>
<text x="245" y="293.56" font-size="5.88" text-anchor="middle" fill="#222" stroke="#222" stroke-width="0.22" transform="rotate(-0.05 245 293.56)">**</text>
<text x="232.9" y="299.06" font-size="5.88" text-anchor="middle" fill="#222" stroke="#222" stroke-width="0.22" transform="rotate(-0.05 232.9 299.06)">**</text>
<text x="258.2" y="299.56" font-size="5.88" text-anchor="middle" fill="#222" stroke="#222" stroke-width="0.22" transform="rotate(-0.05 258.2 299.56)">**</text>
<line x1="306" y1="322.3" x2="347.5" y2="322.3" stroke="#4c4c4c" stroke-width="0.8"/>
<line x1="306" y1="328.1" x2="323.9" y2="328.1" stroke="#545454" stroke-width="0.8"/>
<line x1="329.3" y1="328.1" x2="347.5" y2="328.1" stroke="#545454" stroke-width="0.8"/>
<text x="326.7" y="322.76" font-size="5.88" text-anchor="middle" fill="#222" stroke="#222" stroke-width="0.22" transform="rotate(-0.05 326.7 322.76)">*</text>
<text x="315.8" y="328.76" font-size="5.88" text-anchor="middle" fill="#222" stroke="#222" stroke-width="0.22" transform="rotate(-0.05 315.8 328.76)">*</text>
<text x="338.4" y="328.76" font-size="5.88" text-anchor="middle" fill="#222" stroke="#222" stroke-width="0.22" transform="rotate(-0.05 338.4 328.76)">*</text>
<line x1="390.1" y1="320.4" x2="431.3" y2="320.4" stroke="#4c4c4c" stroke-width="0.8"/>
<line x1="390.1" y1="326.5" x2="408.5" y2="326.5" stroke="#545454" stroke-width="0.8"/>
<line x1="412.9" y1="326.5" x2="431" y2="326.5" stroke="#545454" stroke-width="0.8"/>
<text x="410.5" y="321.06" font-size="5.88" text-anchor="middle" fill="#222" stroke="#222" stroke-width="0.22" transform="rotate(-0.05 410.5 321.06)">*</text>
<text x="399.4" y="327.36" font-size="5.88" text-anchor="middle" fill="#222" stroke="#222" stroke-width="0.22" transform="rotate(-0.05 399.4 327.36)">*</text>
<text x="421.7" y="327.36" font-size="5.88" text-anchor="middle" fill="#222" stroke="#222" stroke-width="0.22" transform="rotate(-0.05 421.7 327.36)">*</text>
<line x1="27.9" y1="298.8" x2="27.9" y2="341.85" stroke="#2a2a2a" stroke-width="0.9"/>
<line x1="27.45" y1="341.4" x2="461" y2="341.4" stroke="#2a2a2a" stroke-width="0.9"/>
<line x1="26.3" y1="339.3" x2="27.9" y2="339.3" stroke="#2a2a2a" stroke-width="0.8"/>
<text x="25.1" y="341.8" font-size="6.04" text-anchor="end" fill="#1a1a1a" stroke="#1a1a1a" stroke-width="0.14" transform="rotate(-0.05 25.1 341.8)">0</text>
<line x1="26.3" y1="330.55" x2="27.9" y2="330.55" stroke="#2a2a2a" stroke-width="0.8"/>
<text x="25.1" y="333.05" font-size="6.04" text-anchor="end" fill="#1a1a1a" stroke="#1a1a1a" stroke-width="0.14" transform="rotate(-0.05 25.1 333.05)">5000</text>
<line x1="26.3" y1="321.8" x2="27.9" y2="321.8" stroke="#2a2a2a" stroke-width="0.8"/>
<text x="25.1" y="324.3" font-size="6.04" text-anchor="end" fill="#1a1a1a" stroke="#1a1a1a" stroke-width="0.14" transform="rotate(-0.05 25.1 324.3)">10000</text>
<line x1="26.3" y1="313.05" x2="27.9" y2="313.05" stroke="#2a2a2a" stroke-width="0.8"/>
<text x="25.1" y="315.55" font-size="6.04" text-anchor="end" fill="#1a1a1a" stroke="#1a1a1a" stroke-width="0.14" transform="rotate(-0.05 25.1 315.55)">15000</text>
<line x1="26.3" y1="304.3" x2="27.9" y2="304.3" stroke="#2a2a2a" stroke-width="0.8"/>
<text x="25.1" y="306.8" font-size="6.04" text-anchor="end" fill="#1a1a1a" stroke="#1a1a1a" stroke-width="0.14" transform="rotate(-0.05 25.1 306.8)">20000</text>
<text x="5.9" y="320.5" font-size="6.04" text-anchor="middle" fill="#1a1a1a" stroke="#1a1a1a" stroke-width="0.14" transform="rotate(-90.05 5.9 320.5)">Reads Abundance</text>
<line x1="77.8" y1="341.4" x2="77.8" y2="343.1" stroke="#2a2a2a" stroke-width="0.6"/>
<text x="81.8" y="346" font-size="5.92" text-anchor="end" fill="#1a1a1a" stroke="#1a1a1a" stroke-width="0.2" font-style="italic" transform="rotate(-75.05 81.8 346)">ko00627 Aminobenzoate degradation</text>
<line x1="161" y1="341.4" x2="161" y2="343.1" stroke="#2a2a2a" stroke-width="0.6"/>
<text x="165" y="346" font-size="5.92" text-anchor="end" fill="#1a1a1a" stroke="#1a1a1a" stroke-width="0.2" font-style="italic" transform="rotate(-75.05 165 346)">ko00253 Tetracycline biosynthesis</text>
<line x1="244.2" y1="341.4" x2="244.2" y2="343.1" stroke="#2a2a2a" stroke-width="0.6"/>
<text x="248.2" y="346" font-size="5.92" text-anchor="end" fill="#1a1a1a" stroke="#1a1a1a" stroke-width="0.2" font-style="italic" transform="rotate(-75.05 248.2 346)">ko00480 Glutathione metabolism</text>
<line x1="327.4" y1="341.4" x2="327.4" y2="343.1" stroke="#2a2a2a" stroke-width="0.6"/>
<text x="331.4" y="346" font-size="5.92" text-anchor="end" fill="#1a1a1a" stroke="#1a1a1a" stroke-width="0.2" font-style="italic" transform="rotate(-75.05 331.4 346)">ko00930 Caprolactam degradation</text>
<line x1="410.6" y1="341.4" x2="410.6" y2="343.1" stroke="#2a2a2a" stroke-width="0.6"/>
<text x="414.6" y="346" font-size="5.92" text-anchor="end" fill="#1a1a1a" stroke="#1a1a1a" stroke-width="0.2" font-style="italic" transform="rotate(-75.05 414.6 346)">ko01053 Biosynthesis of siderophore group nonribosomal peptides</text>
</g>
<g id="panelC">
<text x="480.7" y="134.1" font-size="15.8" text-anchor="start" fill="#000" font-weight="bold" transform="translate(480.7 134.1) rotate(-0.05) scale(0.82 1) translate(-480.7 -134.1)">C</text>
<text x="519" y="130.87" font-size="5.9" text-anchor="start" fill="#1a1a1a" stroke="#1a1a1a" stroke-width="0.14" transform="rotate(-0.05 519 130.87)">Groups</text>
<rect x="541.64" y="124.84" width="8.02" height="7.82" fill="#F79646" stroke="#1e1e1e" stroke-width="0.6"/>
<text x="552.4" y="130.04" font-size="4.97" text-anchor="start" fill="#1a1a1a" stroke="#1a1a1a" stroke-width="0.14" transform="rotate(-0.05 552.4 130.04)">Non-responder</text>
<rect x="589.54" y="124.84" width="8.12" height="7.82" fill="#13B23C" stroke="#1e1e1e" stroke-width="0.6"/>
<text x="601.7" y="130.04" font-size="4.97" text-anchor="start" fill="#1a1a1a" stroke="#1a1a1a" stroke-width="0.14" transform="rotate(-0.05 601.7 130.04)">Responder</text>
<rect x="628.54" y="124.84" width="8.02" height="7.82" fill="#5B9CF6" stroke="#1e1e1e" stroke-width="0.6"/>
<text x="640" y="130.04" font-size="4.97" text-anchor="start" fill="#1a1a1a" stroke="#1a1a1a" stroke-width="0.14" transform="rotate(-0.05 640 130.04)">ART(-)</text>
<rect x="508.7" y="299.7" width="9.7" height="19.7" fill="#F79646" stroke="#1e1e1e" stroke-width="0.75"/>
<rect x="520.15" y="313.4" width="9.65" height="6" fill="#13B23C" stroke="#1e1e1e" stroke-width="0.75"/>
<rect x="531.6" y="317.6" width="9.8" height="1.8" fill="#5B9CF6" stroke="#1e1e1e" stroke-width="0.75"/>
<line x1="513.5" y1="291.3" x2="513.5" y2="307.4" stroke="#151515" stroke-width="0.65"/>
<line x1="513.1" y1="291.3" x2="513.9" y2="291.3" stroke="#151515" stroke-width="0.65"/>
<line x1="513.1" y1="307.4" x2="513.9" y2="307.4" stroke="#151515" stroke-width="0.65"/>
<line x1="524.5" y1="307.1" x2="524.5" y2="318.8" stroke="#151515" stroke-width="0.65"/>
<line x1="524.1" y1="307.1" x2="524.9" y2="307.1" stroke="#151515" stroke-width="0.65"/>
<line x1="524.1" y1="318.8" x2="524.9" y2="318.8" stroke="#151515" stroke-width="0.65"/>
<line x1="536.5" y1="316.2" x2="536.5" y2="318.3" stroke="#151515" stroke-width="0.65"/>
<line x1="536.1" y1="316.2" x2="536.9" y2="316.2" stroke="#151515" stroke-width="0.65"/>
<line x1="536.1" y1="318.3" x2="536.9" y2="318.3" stroke="#151515" stroke-width="0.65"/>
<rect x="551.5" y="268.3" width="9.7" height="51.1" fill="#F79646" stroke="#1e1e1e" stroke-width="0.75"/>
<rect x="562.5" y="318.55" width="10.4" height="1.15" fill="#1f4d2c"/>
<rect x="574.35" y="317.9" width="9.65" height="1.5" fill="#5B9CF6" stroke="#1e1e1e" stroke-width="0.75"/>
<line x1="556.5" y1="218.3" x2="556.5" y2="317.1" stroke="#151515" stroke-width="0.65"/>
<line x1="556.1" y1="218.3" x2="556.9" y2="218.3" stroke="#151515" stroke-width="0.65"/>
<line x1="556.1" y1="317.1" x2="556.9" y2="317.1" stroke="#151515" stroke-width="0.65"/>
<line x1="567.5" y1="318.4" x2="567.5" y2="319.3" stroke="#151515" stroke-width="0.65"/>
<line x1="567.1" y1="318.4" x2="567.9" y2="318.4" stroke="#151515" stroke-width="0.65"/>
<line x1="567.1" y1="319.3" x2="567.9" y2="319.3" stroke="#151515" stroke-width="0.65"/>
<line x1="579.5" y1="316.2" x2="579.5" y2="318.8" stroke="#151515" stroke-width="0.65"/>
<line x1="579.1" y1="316.2" x2="579.9" y2="316.2" stroke="#151515" stroke-width="0.65"/>
<line x1="579.1" y1="318.8" x2="579.9" y2="318.8" stroke="#151515" stroke-width="0.65"/>
<rect x="594.3" y="202.1" width="9.6" height="117.3" fill="#F79646" stroke="#1e1e1e" stroke-width="0.75"/>
<rect x="605.6" y="301.6" width="9.8" height="17.8" fill="#13B23C" stroke="#1e1e1e" stroke-width="0.75"/>
<rect x="617.15" y="238.7" width="9.65" height="80.7" fill="#5B9CF6" stroke="#1e1e1e" stroke-width="0.75"/>
<line x1="599.5" y1="153.1" x2="599.5" y2="250.1" stroke="#151515" stroke-width="0.65"/>
<line x1="599.1" y1="153.1" x2="599.9" y2="153.1" stroke="#151515" stroke-width="0.65"/>
<line x1="599.1" y1="250.1" x2="599.9" y2="250.1" stroke="#151515" stroke-width="0.65"/>
<line x1="610.5" y1="293.9" x2="610.5" y2="307.2" stroke="#151515" stroke-width="0.65"/>
<line x1="610.1" y1="293.9" x2="610.9" y2="293.9" stroke="#151515" stroke-width="0.65"/>
<line x1="610.1" y1="307.2" x2="610.9" y2="307.2" stroke="#151515" stroke-width="0.65"/>
<line x1="621.5" y1="215.9" x2="621.5" y2="261.3" stroke="#151515" stroke-width="0.65"/>
<line x1="621.1" y1="215.9" x2="621.9" y2="215.9" stroke="#151515" stroke-width="0.65"/>
<line x1="621.1" y1="261.3" x2="621.9" y2="261.3" stroke="#151515" stroke-width="0.65"/>
<rect x="637.2" y="258.6" width="9.6" height="61.3" fill="#F79646" stroke="#1e1e1e" stroke-width="0.75"/>
<rect x="649.2" y="310.3" width="10" height="9.6" fill="#13B23C" stroke="#1e1e1e" stroke-width="0.75"/>
<rect x="661.2" y="277.2" width="10.7" height="42.7" fill="#5B9CF6" stroke="#1e1e1e" stroke-width="0.75"/>
<line x1="642.5" y1="209.3" x2="642.5" y2="306" stroke="#151515" stroke-width="0.65"/>
<line x1="642.1" y1="209.3" x2="642.9" y2="209.3" stroke="#151515" stroke-width="0.65"/>
<line x1="642.1" y1="306" x2="642.9" y2="306" stroke="#151515" stroke-width="0.65"/>
<line x1="654.5" y1="304.2" x2="654.5" y2="315.9" stroke="#151515" stroke-width="0.65"/>
<line x1="654.1" y1="304.2" x2="654.9" y2="304.2" stroke="#151515" stroke-width="0.65"/>
<line x1="654.1" y1="315.9" x2="654.9" y2="315.9" stroke="#151515" stroke-width="0.65"/>
<line x1="666.5" y1="250.1" x2="666.5" y2="304.2" stroke="#151515" stroke-width="0.65"/>
<line x1="666.1" y1="250.1" x2="666.9" y2="250.1" stroke="#151515" stroke-width="0.65"/>
<line x1="666.1" y1="304.2" x2="666.9" y2="304.2" stroke="#151515" stroke-width="0.65"/>
<line x1="513.1" y1="283.3" x2="536.7" y2="283.3" stroke="#4a4a4a" stroke-width="0.6"/>
<line x1="513.1" y1="289.1" x2="523.4" y2="289.1" stroke="#7a7a7a" stroke-width="0.6"/>
<line x1="526.1" y1="289.1" x2="536.7" y2="289.1" stroke="#7a7a7a" stroke-width="0.6"/>
<text x="524.7" y="283.97" font-size="5.04" text-anchor="middle" fill="#222" stroke="#222" stroke-width="0.12" transform="rotate(-0.05 524.7 283.97)">*</text>
<text x="518.4" y="289.67" font-size="5.04" text-anchor="middle" fill="#222" stroke="#222" stroke-width="0.12" transform="rotate(-0.05 518.4 289.67)">*</text>
<text x="531.7" y="289.67" font-size="5.04" text-anchor="middle" fill="#222" stroke="#222" stroke-width="0.12" transform="rotate(-0.05 531.7 289.67)">*</text>
<line x1="555.9" y1="211.8" x2="579.8" y2="211.8" stroke="#4a4a4a" stroke-width="0.6"/>
<line x1="555.9" y1="216.3" x2="566" y2="216.3" stroke="#4a4a4a" stroke-width="0.6"/>
<line x1="569.7" y1="216.3" x2="579.8" y2="216.3" stroke="#4a4a4a" stroke-width="0.6"/>
<text x="568" y="212.87" font-size="5.04" text-anchor="middle" fill="#222" stroke="#222" stroke-width="0.12" transform="rotate(-0.05 568 212.87)">**</text>
<text x="561.2" y="217.47" font-size="5.04" text-anchor="middle" fill="#222" stroke="#222" stroke-width="0.12" transform="rotate(-0.05 561.2 217.47)">**</text>
<text x="575" y="215.65" font-size="2.98" text-anchor="middle" fill="#3c3f46" stroke="#3c3f46" stroke-width="0.08" transform="rotate(-0.05 575 215.65)">NS</text>
<line x1="598.4" y1="146.3" x2="622.6" y2="146.3" stroke="#4a4a4a" stroke-width="0.6"/>
<line x1="598.4" y1="151.2" x2="608.7" y2="151.2" stroke="#4a4a4a" stroke-width="0.6"/>
<line x1="611.9" y1="151.2" x2="622.6" y2="151.2" stroke="#4a4a4a" stroke-width="0.6"/>
<text x="610.7" y="147.37" font-size="5.04" text-anchor="middle" fill="#222" stroke="#222" stroke-width="0.12" transform="rotate(-0.05 610.7 147.37)">**</text>
<text x="603.8" y="152.97" font-size="5.04" text-anchor="middle" fill="#222" stroke="#222" stroke-width="0.12" transform="rotate(-0.05 603.8 152.97)">**</text>
<text x="617.1" y="152.97" font-size="5.04" text-anchor="middle" fill="#222" stroke="#222" stroke-width="0.12" transform="rotate(-0.05 617.1 152.97)">**</text>
<line x1="642.1" y1="203.1" x2="666" y2="203.1" stroke="#4a4a4a" stroke-width="0.6"/>
<line x1="642.1" y1="207.8" x2="652" y2="207.8" stroke="#4a4a4a" stroke-width="0.6"/>
<line x1="655" y1="207.8" x2="665.4" y2="207.8" stroke="#4a4a4a" stroke-width="0.6"/>
<text x="653.6" y="204.07" font-size="5.04" text-anchor="middle" fill="#222" stroke="#222" stroke-width="0.12" transform="rotate(-0.05 653.6 204.07)">**</text>
<text x="647.1" y="209.07" font-size="5.04" text-anchor="middle" fill="#222" stroke="#222" stroke-width="0.12" transform="rotate(-0.05 647.1 209.07)">**</text>
<text x="660.2" y="209.07" font-size="5.04" text-anchor="middle" fill="#222" stroke="#222" stroke-width="0.12" transform="rotate(-0.05 660.2 209.07)">**</text>
<line x1="498.3" y1="145.2" x2="498.3" y2="327.9" stroke="#2a2a2a" stroke-width="0.85"/>
<line x1="497.88" y1="327.5" x2="683" y2="327.5" stroke="#2a2a2a" stroke-width="0.85"/>
<text x="495.3" y="327.1" font-size="5.9" text-anchor="end" fill="#1a1a1a" stroke="#1a1a1a" stroke-width="0.14" transform="rotate(-0.05 495.3 327.1)">0</text>
<line x1="496.5" y1="269.4" x2="498.3" y2="269.4" stroke="#2a2a2a" stroke-width="0.8"/>
<text x="495.3" y="271.6" font-size="5.9" text-anchor="end" fill="#1a1a1a" stroke="#1a1a1a" stroke-width="0.14" transform="rotate(-0.05 495.3 271.6)">5000</text>
<line x1="496.5" y1="213.5" x2="498.3" y2="213.5" stroke="#2a2a2a" stroke-width="0.8"/>
<text x="495.3" y="215.7" font-size="5.9" text-anchor="end" fill="#1a1a1a" stroke="#1a1a1a" stroke-width="0.14" transform="rotate(-0.05 495.3 215.7)">10000</text>
<line x1="496.5" y1="157.7" x2="498.3" y2="157.7" stroke="#2a2a2a" stroke-width="0.8"/>
<text x="495.3" y="159.9" font-size="5.9" text-anchor="end" fill="#1a1a1a" stroke="#1a1a1a" stroke-width="0.14" transform="rotate(-0.05 495.3 159.9)">15000</text>
<text x="472.3" y="241.9" font-size="5.45" text-anchor="middle" fill="#1a1a1a" stroke="#1a1a1a" stroke-width="0.14" transform="rotate(-90.05 472.3 241.9)">Reads Abundance</text>
<line x1="524.7" y1="327.5" x2="524.7" y2="329.1" stroke="#2a2a2a" stroke-width="0.7"/>
<text x="528.6" y="331.4" font-size="5.8" text-anchor="end" fill="#1a1a1a" stroke="#1a1a1a" stroke-width="0.14" transform="rotate(-75.05 528.6 331.4)">GH6</text>
<line x1="567.6" y1="327.5" x2="567.6" y2="329.1" stroke="#2a2a2a" stroke-width="0.7"/>
<text x="571.5" y="331.4" font-size="5.8" text-anchor="end" fill="#1a1a1a" stroke="#1a1a1a" stroke-width="0.14" transform="rotate(-75.05 571.5 331.4)">GT25</text>
<line x1="610.4" y1="327.5" x2="610.4" y2="329.1" stroke="#2a2a2a" stroke-width="0.7"/>
<text x="614.3" y="331.4" font-size="5.8" text-anchor="end" fill="#1a1a1a" stroke="#1a1a1a" stroke-width="0.14" transform="rotate(-75.05 614.3 331.4)">GT8</text>
<line x1="653.3" y1="327.5" x2="653.3" y2="329.1" stroke="#2a2a2a" stroke-width="0.7"/>
<text x="657.2" y="331.4" font-size="5.8" text-anchor="end" fill="#1a1a1a" stroke="#1a1a1a" stroke-width="0.14" transform="rotate(-75.05 657.2 331.4)">GH37</text>
</g>
<g id="panelD">
<text x="9.5" y="548.8" font-size="15.1" text-anchor="start" fill="#000" font-weight="bold" transform="translate(9.5 548.8) rotate(-0.05) scale(0.95 1) translate(-9.5 -548.8)">D</text>
<line x1="37.7" y1="560.2" x2="37.7" y2="631.6" stroke="#cfcfcf" stroke-width="0.8"/>
<line x1="73.36" y1="560.2" x2="73.36" y2="631.6" stroke="#cfcfcf" stroke-width="0.8"/>
<line x1="109.02" y1="560.2" x2="109.02" y2="631.6" stroke="#cfcfcf" stroke-width="0.8"/>
<line x1="144.68" y1="560.2" x2="144.68" y2="631.6" stroke="#cfcfcf" stroke-width="0.8"/>
<line x1="180.34" y1="560.2" x2="180.34" y2="631.6" stroke="#cfcfcf" stroke-width="0.8"/>
<line x1="216" y1="560.2" x2="216" y2="631.6" stroke="#cfcfcf" stroke-width="0.8"/>
<line x1="251.66" y1="560.2" x2="251.66" y2="631.6" stroke="#cfcfcf" stroke-width="0.8"/>
<line x1="287.32" y1="560.2" x2="287.32" y2="631.6" stroke="#cfcfcf" stroke-width="0.8"/>
<line x1="322.98" y1="560.2" x2="322.98" y2="631.6" stroke="#cfcfcf" stroke-width="0.8"/>
<line x1="358.64" y1="560.2" x2="358.64" y2="631.6" stroke="#cfcfcf" stroke-width="0.8"/>
<line x1="394.3" y1="560.2" x2="394.3" y2="631.6" stroke="#cfcfcf" stroke-width="0.8"/>
<line x1="429.96" y1="560.2" x2="429.96" y2="631.6" stroke="#cfcfcf" stroke-width="0.8"/>
<line x1="465.62" y1="560.2" x2="465.62" y2="631.6" stroke="#cfcfcf" stroke-width="0.8"/>
<line x1="501.28" y1="560.2" x2="501.28" y2="631.6" stroke="#cfcfcf" stroke-width="0.8"/>
<line x1="536.94" y1="560.2" x2="536.94" y2="631.6" stroke="#cfcfcf" stroke-width="0.8"/>
<line x1="572.6" y1="560.2" x2="572.6" y2="631.6" stroke="#cfcfcf" stroke-width="0.8"/>
<line x1="608.26" y1="560.2" x2="608.26" y2="631.6" stroke="#cfcfcf" stroke-width="0.8"/>
<line x1="643.92" y1="560.2" x2="643.92" y2="631.6" stroke="#cfcfcf" stroke-width="0.8"/>
<line x1="679.58" y1="560.2" x2="679.58" y2="631.6" stroke="#cfcfcf" stroke-width="0.8"/>
<line x1="37.7" y1="560.2" x2="679.58" y2="560.2" stroke="#cfcfcf" stroke-width="0.8"/>
<line x1="37.7" y1="595.9" x2="679.58" y2="595.9" stroke="#cfcfcf" stroke-width="0.8"/>
<text x="57.33" y="558.9" font-size="6.5" text-anchor="start" fill="#1a1a1a" stroke="#1a1a1a" stroke-width="0.14" transform="rotate(-53.05 57.33 558.9)">CBM48</text>
<text x="92.99" y="558.9" font-size="6.5" text-anchor="start" fill="#1a1a1a" stroke="#1a1a1a" stroke-width="0.14" transform="rotate(-53.05 92.99 558.9)">CE10</text>
<text x="128.65" y="558.9" font-size="6.5" text-anchor="start" fill="#1a1a1a" stroke="#1a1a1a" stroke-width="0.14" transform="rotate(-53.05 128.65 558.9)">GH13</text>
<text x="164.31" y="558.9" font-size="6.5" text-anchor="start" fill="#1a1a1a" stroke="#1a1a1a" stroke-width="0.14" transform="rotate(-53.05 164.31 558.9)">GH16</text>
<text x="199.97" y="558.9" font-size="6.5" text-anchor="start" fill="#1a1a1a" stroke="#1a1a1a" stroke-width="0.14" transform="rotate(-53.05 199.97 558.9)">GH19</text>
<text x="235.63" y="558.9" font-size="6.5" text-anchor="start" fill="#1a1a1a" stroke="#1a1a1a" stroke-width="0.14" transform="rotate(-53.05 235.63 558.9)">GH27</text>
<text x="271.29" y="558.9" font-size="6.5" text-anchor="start" fill="#1a1a1a" stroke="#1a1a1a" stroke-width="0.14" transform="rotate(-53.05 271.29 558.9)">GH28</text>
<text x="306.95" y="558.9" font-size="6.5" text-anchor="start" fill="#1a1a1a" stroke="#1a1a1a" stroke-width="0.14" transform="rotate(-53.05 306.95 558.9)">GH37</text>
<text x="342.61" y="558.9" font-size="6.5" text-anchor="start" fill="#1a1a1a" stroke="#1a1a1a" stroke-width="0.14" transform="rotate(-53.05 342.61 558.9)">GH6</text>
<text x="378.27" y="558.9" font-size="6.5" text-anchor="start" fill="#1a1a1a" stroke="#1a1a1a" stroke-width="0.14" transform="rotate(-53.05 378.27 558.9)">GH68</text>
<text x="413.93" y="558.9" font-size="6.5" text-anchor="start" fill="#1a1a1a" stroke="#1a1a1a" stroke-width="0.14" transform="rotate(-53.05 413.93 558.9)">GH77</text>
<text x="449.59" y="558.9" font-size="6.5" text-anchor="start" fill="#1a1a1a" stroke="#1a1a1a" stroke-width="0.14" transform="rotate(-53.05 449.59 558.9)">GH8</text>
<text x="485.25" y="558.9" font-size="6.5" text-anchor="start" fill="#1a1a1a" stroke="#1a1a1a" stroke-width="0.14" transform="rotate(-53.05 485.25 558.9)">GH82</text>
<text x="520.91" y="558.9" font-size="6.5" text-anchor="start" fill="#1a1a1a" stroke="#1a1a1a" stroke-width="0.14" transform="rotate(-53.05 520.91 558.9)">GT10</text>
<text x="556.57" y="558.9" font-size="6.5" text-anchor="start" fill="#1a1a1a" stroke="#1a1a1a" stroke-width="0.14" transform="rotate(-53.05 556.57 558.9)">GT20</text>
<text x="592.23" y="558.9" font-size="6.5" text-anchor="start" fill="#1a1a1a" stroke="#1a1a1a" stroke-width="0.14" transform="rotate(-53.05 592.23 558.9)">GT25</text>
<text x="627.89" y="558.9" font-size="6.5" text-anchor="start" fill="#1a1a1a" stroke="#1a1a1a" stroke-width="0.14" transform="rotate(-53.05 627.89 558.9)">GT39</text>
<text x="663.55" y="558.9" font-size="6.5" text-anchor="start" fill="#1a1a1a" stroke="#1a1a1a" stroke-width="0.14" transform="rotate(-53.05 663.55 558.9)">GT8</text>
<text x="35.4" y="581" font-size="6.9" text-anchor="end" fill="#1a1a1a" stroke="#1a1a1a" stroke-width="0.14" transform="rotate(-0.05 35.4 581)">Morganella</text>
<text x="35.4" y="628.4" font-size="6.9" text-anchor="end" fill="#1a1a1a" stroke="#1a1a1a" stroke-width="0.14" transform="rotate(-0.05 35.4 628.4)">Tyzzerella</text>
<circle cx="590.1" cy="578.1" r="15" fill="#9c2227"/>
<circle cx="376.3" cy="613.9" r="16.1" fill="#8b0000"/>
<defs><linearGradient id="cb" x1="0" x2="1" y1="0" y2="0"><stop offset="0" stop-color="#6f8196"/><stop offset="0.2" stop-color="#aab6c4"/><stop offset="0.40" stop-color="#f4f4f4"/><stop offset="0.47" stop-color="#f0d9d6"/><stop offset="0.6" stop-color="#d98a80"/><stop offset="0.8" stop-color="#a8231f"/><stop offset="1" stop-color="#7a0a0c"/></linearGradient><linearGradient id="cbt" x1="0" x2="1" y1="0" y2="0"><stop offset="0" stop-color="#36414e"/><stop offset="0.4" stop-color="#4a4a4c"/><stop offset="0.7" stop-color="#4c3434"/><stop offset="1" stop-color="#3c0a0c"/></linearGradient></defs>
<rect x="37.2" y="633.1" width="642.2" height="1.1" fill="url(#cb)"/>
<rect x="37.2" y="632.1" width="642.2" height="1.15" fill="url(#cbt)"/>
<text x="36.6" y="641" font-size="7.1" text-anchor="middle" fill="#1a1a1a" stroke="#1a1a1a" stroke-width="0.14" transform="rotate(-0.05 36.6 641)">&#8722;0.26</text>
<text x="108.3" y="639.3" font-size="6.45" text-anchor="middle" fill="#1a1a1a" stroke="#1a1a1a" stroke-width="0.14" transform="rotate(-0.05 108.3 639.3)">&#8722;0.16</text>
<text x="177.4" y="639.3" font-size="6.45" text-anchor="middle" fill="#1a1a1a" stroke="#1a1a1a" stroke-width="0.14" transform="rotate(-0.05 177.4 639.3)">&#8722;0.06</text>
<text x="251.3" y="639.3" font-size="6.45" text-anchor="middle" fill="#1a1a1a" stroke="#1a1a1a" stroke-width="0.14" transform="rotate(-0.05 251.3 639.3)">0.05</text>
<text x="321.4" y="639.3" font-size="6.45" text-anchor="middle" fill="#1a1a1a" stroke="#1a1a1a" stroke-width="0.14" transform="rotate(-0.05 321.4 639.3)">0.15</text>
<text x="393.8" y="639.3" font-size="6.45" text-anchor="middle" fill="#1a1a1a" stroke="#1a1a1a" stroke-width="0.14" transform="rotate(-0.05 393.8 639.3)">0.25</text>
<text x="465.7" y="639.3" font-size="6.45" text-anchor="middle" fill="#1a1a1a" stroke="#1a1a1a" stroke-width="0.14" transform="rotate(-0.05 465.7 639.3)">0.35</text>
<text x="536.9" y="639.3" font-size="6.45" text-anchor="middle" fill="#1a1a1a" stroke="#1a1a1a" stroke-width="0.14" transform="rotate(-0.05 536.9 639.3)">0.46</text>
<text x="608.2" y="639.3" font-size="6.45" text-anchor="middle" fill="#1a1a1a" stroke="#1a1a1a" stroke-width="0.14" transform="rotate(-0.05 608.2 639.3)">0.56</text>
<text x="676.2" y="639.5" font-size="6.45" text-anchor="middle" fill="#1a1a1a" stroke="#1a1a1a" stroke-width="0.14" transform="rotate(-0.05 676.2 639.5)">0.66</text>
</g>
</svg>
</body>
</html>
